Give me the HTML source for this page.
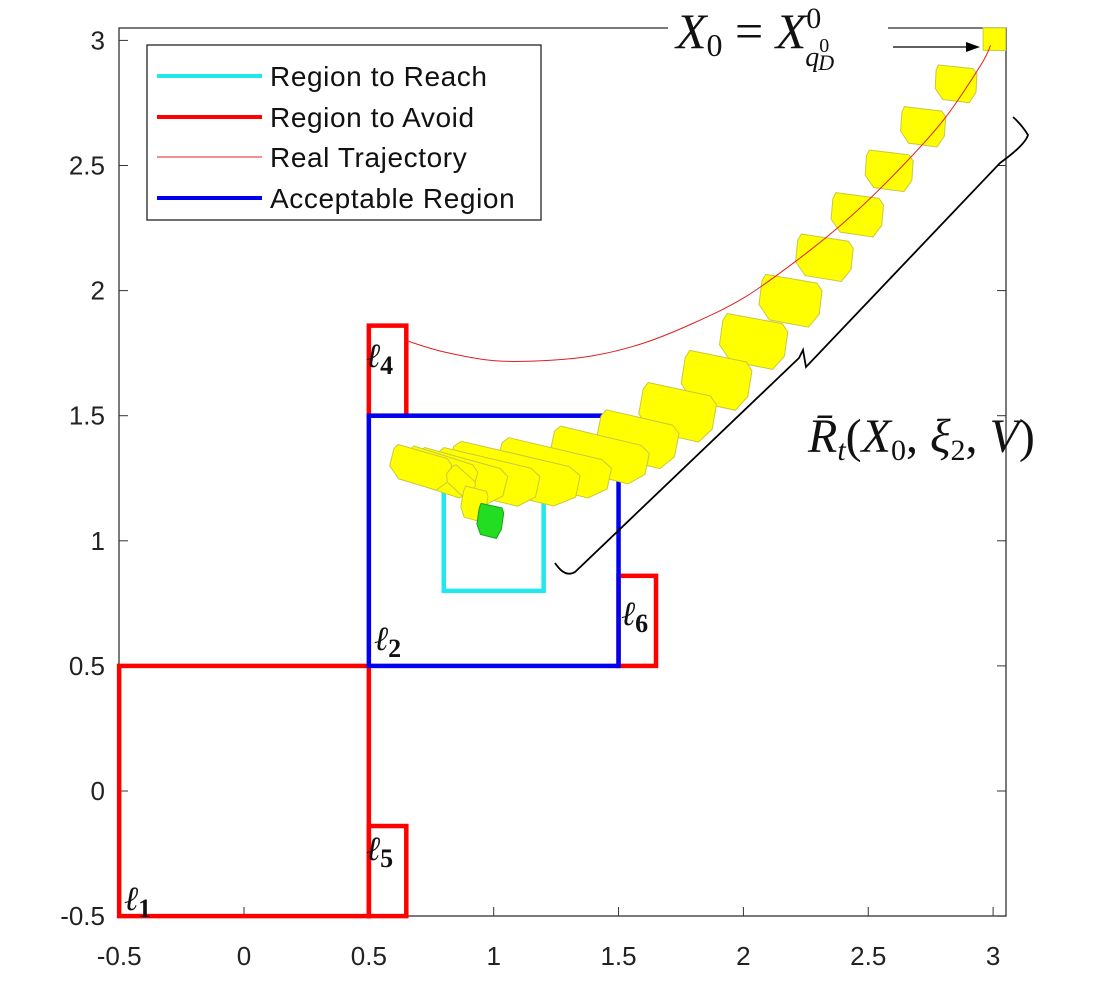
<!DOCTYPE html>
<html><head><meta charset="utf-8"><style>
body{margin:0;background:#fff;width:1116px;height:994px;overflow:hidden}
svg{display:block}
.tk{font-family:"Liberation Sans",sans-serif;font-size:26px;fill:#222}
.lg{font-family:"Liberation Sans",sans-serif;font-size:28px;letter-spacing:0.6px;fill:#111}
.mt{font-family:"Liberation Serif","DejaVu Serif",serif;fill:#111}
</style></head><body>
<svg id="chart" width="1116" height="994">
<g id="axes"></g><g id="regions"></g><g id="sets"></g><g id="traj"></g><g id="ann"></g>
</svg>
<script>
const xTicks=[-0.5,0,0.5,1,1.5,2,2.5,3];
const yTicks=[-0.5,0,0.5,1,1.5,2,2.5,3];
const xTickLabels=["-0.5","0","0.5","1","1.5","2","2.5","3"];
const yTickLabels=["-0.5","0","0.5","1","1.5","2","2.5","3"];
const trajX=[0.65,0.8,1.0,1.2,1.4,1.6,1.8,2.0,2.2,2.4,2.6,2.8,2.95,2.99];
const trajY=[1.80,1.755,1.72,1.72,1.74,1.79,1.87,1.97,2.11,2.27,2.46,2.68,2.90,2.98];
// reach set centres (data), sizes (data), tilt (deg)
const setX=[2.851,2.719,2.583,2.455,2.323,2.187,2.039,1.890,1.734,1.574,1.422,1.241,1.081,0.969,0.865,0.785,0.705,0.865,0.921,0.985];
const setY=[2.826,2.654,2.478,2.302,2.130,1.958,1.795,1.639,1.511,1.403,1.339,1.287,1.263,1.251,1.255,1.271,1.291,1.239,1.147,1.079];
const setW=[0.164,0.176,0.188,0.204,0.224,0.244,0.264,0.272,0.30,0.32,0.39,0.45,0.52,0.42,0.37,0.29,0.24,0.12,0.10,0.10];
const setH=[0.144,0.152,0.156,0.164,0.172,0.188,0.196,0.208,0.20,0.19,0.17,0.17,0.176,0.168,0.16,0.15,0.14,0.08,0.13,0.13];
const setA=[3,4,4,5,6,7,8,9,10,11,12,12,12,12,14,16,14,40,10,8];
const NS="http://www.w3.org/2000/svg";
const X=v=>244+(v)*249.7, Y=v=>791-(v)*250.2;
function mk(p,t,a){const e=document.createElementNS(NS,t);for(const k in a)e.setAttribute(k,a[k]);p.appendChild(e);return e;}
const axes=document.getElementById('axes');
let f=mk(axes,'rect',{x:119,y:28,width:887,height:888,fill:'none',stroke:'#333','stroke-width':1.3});

xTicks.forEach((v,i)=>{mk(axes,'line',{x1:X(v),x2:X(v),y1:916,y2:907,stroke:'#333'});
 const t=mk(axes,'text',{x:X(v),y:965,'text-anchor':'middle',class:'tk'});t.textContent=xTickLabels[i];
 });
yTicks.forEach((v,i)=>{mk(axes,'line',{x1:119,x2:128,y1:Y(v),y2:Y(v),stroke:'#333'});mk(axes,'line',{x1:1006,x2:997,y1:Y(v),y2:Y(v),stroke:'#333'});
 const t=mk(axes,'text',{x:105,y:Y(v)+9,'text-anchor':'end',class:'tk'});t.textContent=yTickLabels[i];
 });
const reg=document.getElementById('regions');
function box(x0,x1,y0,y1,c,n){const r=mk(reg,'rect',{x:X(x0),y:Y(y1),width:X(x1)-X(x0),height:Y(y0)-Y(y1),fill:'none',stroke:c,'stroke-width':4.5});
 }
box(-0.5,0.5,-0.5,0.5,'#ff0000','avoid-region-l1');
box(0.5,0.65,-0.5,-0.14,'#ff0000','avoid-region-l5');
box(0.5,0.65,1.5,1.86,'#ff0000','avoid-region-l4');
box(1.5,1.65,0.5,0.86,'#ff0000','avoid-region-l6');
box(0.5,1.5,0.5,1.5,'#0000ee','acceptable-region');
box(0.8,1.2,0.8,1.2,'#22e8ee','reach-region');
const sets=document.getElementById('sets');
const tpl=[[-0.45,-0.5],[0.4,-0.45],[0.5,-0.3],[0.5,0.2],[0.35,0.5],[-0.3,0.45],[-0.5,0.15],[-0.5,-0.35]];
let sq=mk(sets,'rect',{x:X(2.96),y:Y(3.05),width:X(3.05)-X(2.96),height:Y(2.96)-Y(3.05),fill:'#ffff00',stroke:'#cccc30'});

setX.forEach((cx,i)=>{const w=setW[i]*249.7,h=setH[i]*250.2,a=setA[i]*Math.PI/180;
 const pts=tpl.map(([u,v])=>{const px=u*w,py=v*h;return (X(cx)+px*Math.cos(a)-py*Math.sin(a)).toFixed(1)+','+(Y(setY[i])+px*Math.sin(a)+py*Math.cos(a)).toFixed(1)}).join(' ');
 const last=i===setX.length-1;
 const p=mk(sets,'polygon',{points:pts,fill:last?'#22dd22':'#ffff00',stroke:last?'#18a018':'#c8c840','stroke-width':1});
 });
const tr=document.getElementById('traj');
const P=trajX.map((x,i)=>[X(x),Y(trajY[i])]);
let d='M'+P[0][0]+','+P[0][1];
for(let i=0;i<P.length-1;i++){const p0=P[Math.max(0,i-1)],p1=P[i],p2=P[i+1],p3=P[Math.min(P.length-1,i+2)];
 d+=' C'+(p1[0]+(p2[0]-p0[0])/6)+','+(p1[1]+(p2[1]-p0[1])/6)+' '+(p2[0]-(p3[0]-p1[0])/6)+','+(p2[1]-(p3[1]-p1[1])/6)+' '+p2[0]+','+p2[1];}
const tp=mk(tr,'path',{d:d,fill:'none',stroke:'#e02020','stroke-width':1});

</script>
<svg style="position:absolute;left:0;top:0" width="1116" height="994">
<rect x="668" y="0" width="220" height="29" fill="#fff"/>
<g>
<rect x="147" y="45" width="394" height="175" fill="#fff" stroke="#222" stroke-width="1.3"/>
<line x1="157" y1="76" x2="262" y2="76" stroke="#22e8ee" stroke-width="4"/><text class="lg" x="270" y="86">Region to Reach</text>
<line x1="157" y1="117" x2="262" y2="117" stroke="#ff0000" stroke-width="4"/><text class="lg" x="270" y="127">Region to Avoid</text>
<line x1="157" y1="157" x2="262" y2="157" stroke="#e02020" stroke-width="1"/><text class="lg" x="270" y="167">Real Trajectory</text>
<line x1="157" y1="198" x2="262" y2="198" stroke="#0000ee" stroke-width="4"/><text class="lg" x="270" y="208">Acceptable Region</text>
</g>
<g class="mt" font-size="34">
<text x="124" y="910"><tspan font-style="italic">ℓ</tspan><tspan font-weight="bold" font-size="26" dy="7">1</tspan></text>
<text x="374" y="650"><tspan font-style="italic">ℓ</tspan><tspan font-weight="bold" font-size="26" dy="7">2</tspan></text>
<text x="366" y="367"><tspan font-style="italic">ℓ</tspan><tspan font-weight="bold" font-size="26" dy="7">4</tspan></text>
<text x="366" y="860"><tspan font-style="italic">ℓ</tspan><tspan font-weight="bold" font-size="26" dy="7">5</tspan></text>
<text x="621" y="625"><tspan font-style="italic">ℓ</tspan><tspan font-weight="bold" font-size="26" dy="7">6</tspan></text>
</g>
<text class="mt" x="676" y="48" font-size="50"><tspan font-style="italic">X</tspan><tspan font-size="32" dy="8">0</tspan><tspan dy="-8"> = </tspan><tspan font-style="italic">X</tspan><tspan font-size="30" dy="-20">0</tspan><tspan font-size="28" font-style="italic" dx="-16" dy="38">q</tspan><tspan font-size="20" dy="-14">0</tspan><tspan font-size="22" font-style="italic" dx="-11" dy="18">D</tspan></text>
<line x1="893" y1="47" x2="968" y2="47" stroke="#000" stroke-width="1.3"/>
<polygon points="980,47 966,42 966,52" fill="#000"/>
<path d="M555,563 Q565,578 575,572 L799,358 L803,350 L806,367 L1000,163 Q1025,145 1028,135 Q1022,125 1013,117" fill="none" stroke="#000" stroke-width="1.8"/>
<text class="mt" x="808" y="452" font-size="48"><tspan font-style="italic">R̄</tspan><tspan font-size="30" font-style="italic" dy="8">t</tspan><tspan dy="-8">(</tspan><tspan font-style="italic">X</tspan><tspan font-size="30" dy="8">0</tspan><tspan dy="-8">, </tspan><tspan font-style="italic">ξ</tspan><tspan font-size="30" dy="8">2</tspan><tspan dy="-8">, </tspan><tspan font-style="italic">V</tspan>)</text>
</svg>
</body></html>
